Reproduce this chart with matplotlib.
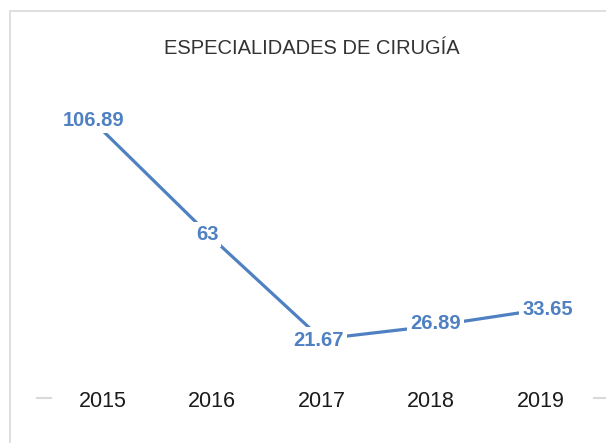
import matplotlib
matplotlib.use("Agg")
import matplotlib.pyplot as plt
from matplotlib.patches import Rectangle

years = ["2015", "2016", "2017", "2018", "2019"]
values = [106.89, 63, 21.67, 26.89, 33.65]
value_labels = ["106.89", "63", "21.67", "26.89", "33.65"]
title = "ESPECIALIDADES DE CIRUGÍA"

blue = "#4f81c2"
fig = plt.figure(figsize=(6.06, 4.43), dpi=100)
ax = fig.add_axes([37/606, (443-398)/443, 569/606, (398-100)/443])

x = list(range(len(years)))
ax.plot(x, values, color=blue, lw=2.3, solid_capstyle="butt", zorder=2)

# label offsets in pixels (dx, dy up)
offsets = [(-9.5, 10), (-5, 3.5), (-3, -1), (4.5, 2.5), (7, 0)]
for xi, v, lab, (dx, dy) in zip(x, values, value_labels, offsets):
    ax.annotate(lab, (xi, v), xytext=(dx*0.72, dy*0.72), textcoords="offset points",
                ha="center", va="center", fontsize=14.5, fontweight="bold",
                family="Liberation Sans", color=blue, zorder=3,
                bbox=dict(boxstyle="square,pad=0.15", fc="white", ec="none"))

ax.set_xlim(-0.6, 4.6)
ax.set_ylim(-2.45, 119.4)
ax.set_yticks([])
ax.set_xticks(x)
ax.set_xticklabels(years, family="Liberation Sans", fontsize=15.5, color="#1a1a1a")
for t in ax.get_xticklabels():
    t.set_va("center")
ax.tick_params(axis="x", length=0, pad=2.5)
for s in ax.spines.values():
    s.set_visible(False)

ax.plot([0, 14/569], [0, 0], transform=ax.transAxes, color="#d9d9d9", lw=1.5, clip_on=False)
ax.plot([557/569, 1], [0, 0], transform=ax.transAxes, color="#d9d9d9", lw=1.5, clip_on=False)

fig.add_artist(Rectangle((10/606, -0.05), 1.0, 1-11/443+0.05, transform=fig.transFigure,
                         fill=False, edgecolor="#d9d9d9", lw=1.2))
fig.text(312/606, 1-49/443, title, ha="center", va="center", fontsize=14.5,
         family="Liberation Sans", color="#333333")

fig.savefig("out.png", dpi=100)
